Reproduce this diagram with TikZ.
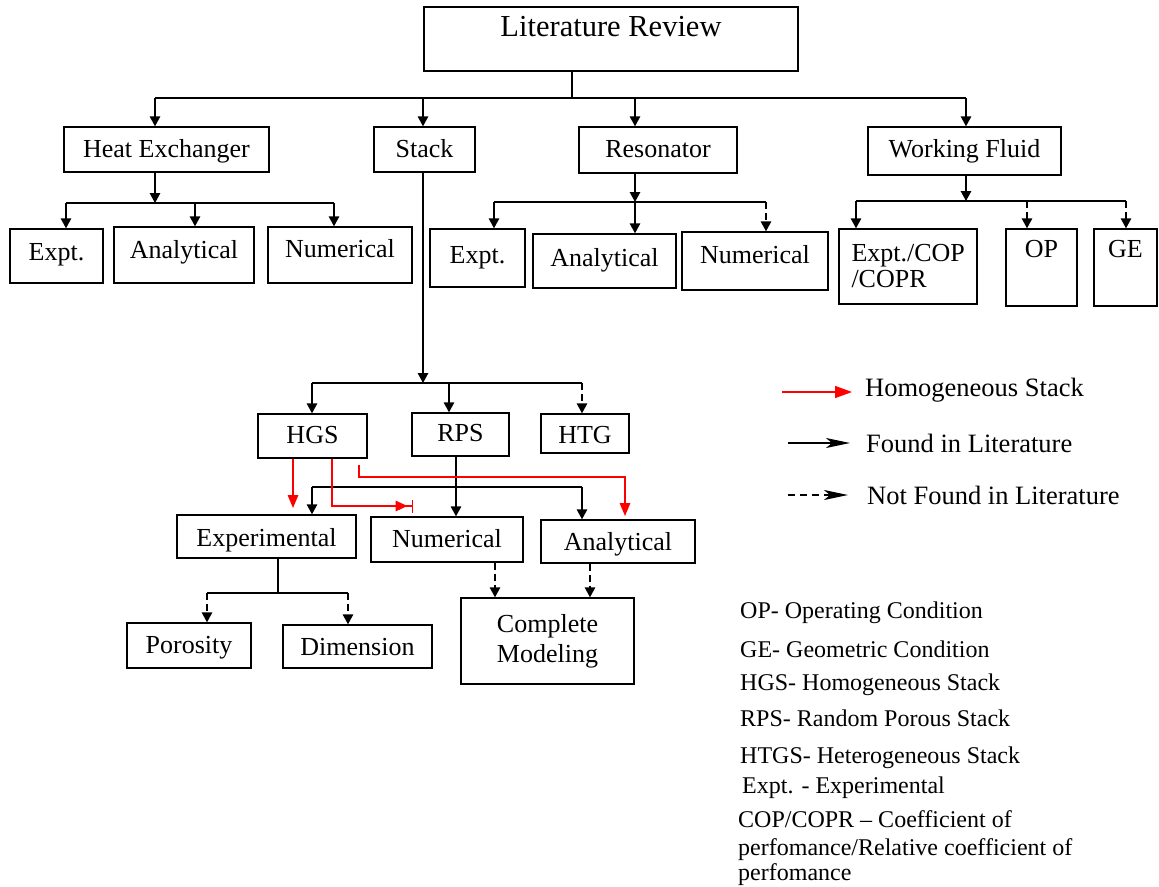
\documentclass[tikz,border=0pt]{standalone}
\usepackage{fontspec}
\setmainfont{Liberation Serif}
\usetikzlibrary{arrows.meta}
\begin{document}
\begin{tikzpicture}[x=1pt,y=-1pt,
  bx/.style={draw, line width=1.4pt, inner sep=0pt, anchor=base, font=\fontsize{26}{30}\selectfont},
  ln/.style={line width=1.4pt},
  arr/.style={ln, -{Triangle[width=10.5pt,length=10pt]}},
  darr/.style={arr, dash pattern=on 7pt off 4pt},
  rarr/.style={line width=1.5pt, red, -{Triangle[width=10.5pt,length=13pt]}},
  rbar/.style={line width=1.5pt, red, -{Triangle[width=10.5pt,length=12pt,sep=4pt] Bar[width=13pt]}},
  legtext/.style={anchor=base west, inner sep=0pt, font=\fontsize{26.5}{30}\selectfont},
  note/.style={anchor=base west, inner sep=0pt, font=\fontsize{24}{28}\selectfont}]
\useasboundingbox (0,0) rectangle (1159,886);

% ---- boxes ----
\node[bx, minimum width=374pt, text height=29pt, text depth=35pt, font=\fontsize{30.5}{34}\selectfont] (lit) at (611,36) {Literature Review};

\node[bx, minimum width=205pt, text height=30pt, text depth=15pt] (he) at (166.5,157) {Heat Exchanger};
\node[bx, minimum width=101pt, text height=30pt, text depth=15pt] (stack) at (424.5,157) {Stack};
\node[bx, minimum width=158pt, text height=30pt, text depth=16pt] (res) at (658,157) {Resonator};
\node[bx, minimum width=193pt, text height=30pt, text depth=18pt] (wf) at (964.5,157) {Working Fluid};

\node[bx, minimum width=93pt, text height=31pt, text depth=23pt] (he1) at (56.5,260) {Expt.};
\node[bx, minimum width=140pt, text height=31pt, text depth=25pt] (he2) at (184,258) {Analytical};
\node[bx, minimum width=144pt, text height=30pt, text depth=26pt] (he3) at (340,257) {Numerical};

\node[bx, minimum width=95pt, text height=34pt, text depth=24pt] (r1) at (477.5,263) {Expt.};
\node[bx, minimum width=143pt, text height=32pt, text depth=22pt] (r2) at (604.5,266) {Analytical};
\node[bx, minimum width=146pt, text height=31.5pt, text depth=26.5pt] (r3) at (755,263.5) {Numerical};

\node[draw, line width=1.4pt, inner sep=0pt, minimum width=138pt, minimum height=75pt,
      text width=113pt, align=left, font=\fontsize{26}{26}\selectfont] (w1) at (908,266.5) {Expt./COP\\/COPR};
\node[bx, minimum width=71pt, text height=28.5pt, text depth=48.5pt] (w2) at (1041.5,257.5) {OP};
\node[bx, minimum width=63pt, text height=28.5pt, text depth=48.5pt] (w3) at (1125.5,257.5) {GE};

\node[bx, minimum width=109pt, text height=29pt, text depth=15pt] (hgs) at (312.5,443) {HGS};
\node[bx, minimum width=97pt, text height=28pt, text depth=15pt] (rps) at (460.5,441) {RPS};
\node[bx, minimum width=88pt, text height=29pt, text depth=10pt] (htg) at (585,443) {HTG};

\node[bx, minimum width=179pt, text height=31pt, text depth=12pt] (exp) at (266.5,546) {Experimental};
\node[bx, minimum width=152pt, text height=30pt, text depth=15pt] (num) at (447,547) {Numerical};
\node[bx, minimum width=154pt, text height=30pt, text depth=13pt] (ana) at (618,550) {Analytical};

\node[bx, minimum width=124pt, text height=30pt, text depth=15pt] (por) at (189,653) {Porosity};
\node[bx, minimum width=149pt, text height=30pt, text depth=13pt] (dim) at (357.5,655) {Dimension};
\node[draw, line width=1.4pt, inner sep=0pt, minimum width=173pt, minimum height=86pt,
      align=center, font=\fontsize{26}{30}\selectfont] (cm) at (547.5,641) {Complete\\Modeling};

% ---- junction points of the connector buses ----
\coordinate (t0) at (572,98);  \coordinate (tL) at (155,98);
\coordinate (tS) at (423,98);  \coordinate (tQ) at (635,98);
\coordinate (tR) at (966,98);

\coordinate (h0) at (155,203); \coordinate (hA) at (66,203);
\coordinate (hB) at (195,203); \coordinate (hC) at (334,203);

\coordinate (q0) at (635,202); \coordinate (qA) at (494,202);
\coordinate (qC) at (766,202);

\coordinate (w0) at (966,201); \coordinate (wA) at (856,201);
\coordinate (wB) at (1027,201); \coordinate (wC) at (1126,201);

\coordinate (s0) at (423,383); \coordinate (sL) at (312,383);
\coordinate (sM) at (449,383); \coordinate (sR) at (582,383);

\coordinate (k0) at (456,487); \coordinate (kL) at (312,487);
\coordinate (kR) at (582,487);

\coordinate (e0) at (278,593); \coordinate (eA) at (207,593);
\coordinate (eB) at (348,593);

\coordinate (cm1) at (495,598); \coordinate (cm2) at (590,598);

\coordinate (ra) at (293,508);
\coordinate (rb1) at (332,506); \coordinate (rb2) at (413,506);
\coordinate (rc0) at (359,464); \coordinate (rc1) at (625,477);
\coordinate (rc2) at (625,516);

% ---- top level ----
\draw[ln] (lit.south -| t0) -- (t0);
\draw[ln] (tL) -- (tR);
\draw[arr] (tL) -- (tL |- he.north);
\draw[arr] (tS) -- (tS |- stack.north);
\draw[arr] (tQ) -- (tQ |- res.north);
\draw[arr] (tR) -- (tR |- wf.north);

% ---- heat exchanger ----
\draw[arr] (he.south -| h0) -- (h0);
\draw[ln] (hA) -- (hC);
\draw[arr] (hA) -- (hA |- he1.north);
\draw[arr] (hB) -- (hB |- he2.north);
\draw[arr] (hC) -- (hC |- he3.north);

% ---- resonator ----
\draw[arr] (res.south -| q0) -- (q0);
\draw[ln] (qA) -- (qC);
\draw[arr] (qA) -- (qA |- r1.north);
\draw[arr] (q0) -- (q0 |- r2.north);
\draw[darr] (qC) -- (qC |- r3.north);

% ---- working fluid ----
\draw[arr] (wf.south -| w0) -- (w0);
\draw[ln] (wA) -- (wC);
\draw[arr] (wA) -- (wA |- w1.north);
\draw[darr] (wB) -- (wB |- w2.north);
\draw[darr] (wC) -- (wC |- w3.north);

% ---- stack ----
\draw[arr] (stack.south -| s0) -- (s0);
\draw[ln] (sL) -- (sR);
\draw[arr] (sL) -- (sL |- hgs.north);
\draw[arr] (sM) -- (sM |- rps.north);
\draw[darr] (sR) -- (sR |- htg.north);

% ---- stack types to methods ----
\draw[arr] (rps.south -| k0) -- (k0 |- num.north);
\draw[ln] (kL) -- (kR);
\draw[arr] (kL) -- (kL |- exp.north);
\draw[arr] (kR) -- (kR |- ana.north);

\draw[rarr] (hgs.south -| ra) -- (ra);
\draw[rbar] (hgs.south -| rb1) -- (rb1) -- (rb2);
\draw[rarr, shorten <=6pt] (hgs.south -| rc0) |- (rc1) -- (rc2);

% ---- experimental / complete modelling ----
\draw[ln] (exp.south -| e0) -- (e0);
\draw[ln] (eA) -- (eB);
\draw[darr] (eA) -- (eA |- por.north);
\draw[darr] (eB) -- (eB |- dim.north);
\draw[darr] (num.south -| cm1) -- (cm1 |- cm.north);
\draw[darr] (ana.south -| cm2) -- (cm2 |- cm.north);

% ---- legend ----
\coordinate (lg1a) at (782,392); \coordinate (lg1b) at (852,392);
\coordinate (lg2a) at (788,443); \coordinate (lg2b) at (850,443);
\coordinate (lg3a) at (788,495); \coordinate (lg3b) at (848,495);
\draw[red, line width=1.4pt, -{Triangle[width=12pt,length=17pt]}] (lg1a) -- (lg1b);
\draw[line width=2pt, -{Stealth[width=10pt,length=24pt,inset=6pt]}] (lg2a) -- (lg2b);
\draw[line width=2pt, dash pattern=on 7pt off 5pt, -{Stealth[width=10pt,length=24pt,inset=6pt]}] (lg3a) -- (lg3b);
\node[legtext] (lgt1) at (865,396) {Homogeneous Stack};
\node[legtext] (lgt2) at (866,452) {Found in Literature};
\node[legtext] (lgt3) at (867,504) {Not Found in Literature};

% ---- abbreviations ----
\node[note] (n1) at (740,618) {OP- Operating Condition};
\node[note] (n2) at (740,657) {GE- Geometric Condition};
\node[note] (n3) at (740,690) {HGS- Homogeneous Stack};
\node[note] (n4) at (740,726) {RPS- Random Porous Stack};
\node[note] (n5) at (740,763) {HTGS- Heterogeneous Stack};
\node[note] (n6) at (742,793) {Expt. - Experimental};
\node[note] (n7) at (738,827) {COP/COPR – Coefficient of};
\node[note] (n8) at (738,855) {perfomance/Relative coefficient of};
\node[note] (n9) at (738,880) {perfomance};
\end{tikzpicture}
\end{document}
